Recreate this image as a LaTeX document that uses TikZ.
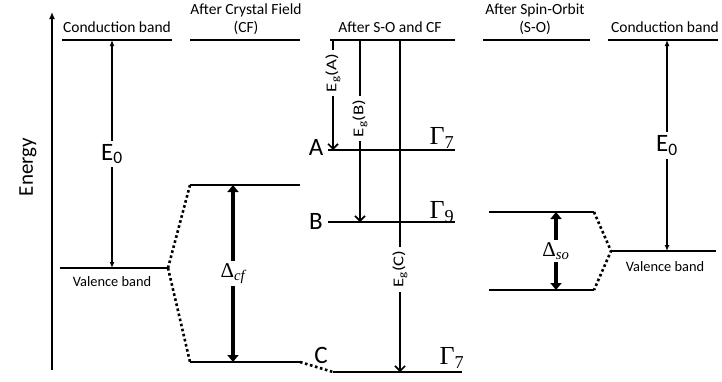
\RequirePackage{fix-cm}
\documentclass[tikz,border=0pt]{standalone}
\usepackage[no-math]{fontspec}
\setmainfont{Carlito}
\newfontfamily\greekfont{Liberation Serif}
\usetikzlibrary{arrows.meta}
\tikzset{
  level/.style={line width=2.8pt},
  gap/.style={line width=1.6pt},
  split/.style={line width=3.2pt,{Triangle[length=7pt,width=11pt]}-{Triangle[length=7pt,width=11pt]}},
  link/.style={line width=2.6pt,dash pattern=on 2.6pt off 2.6pt},
  head/.style={font=\fontsize{15.5}{18}\selectfont,align=center},
  band/.style={font=\fontsize{14.4}{16}\selectfont},
  big/.style={font=\fontsize{25}{28}\selectfont},
  greek/.style={font=\fontsize{26}{28}\selectfont\greekfont},
  delta/.style={font=\fontsize{21}{24}\selectfont\greekfont,fill=white,inner sep=2pt},
  eg/.style={font=\fontsize{15}{16}\selectfont,rotate=90,xscale=1.25,fill=white,inner sep=3pt},
}
\begin{document}
\begin{tikzpicture}[x=1pt,y=-1pt]
    \useasboundingbox (0,0) rectangle (722,381);
    \coordinate (O) at (52,370);
    \coordinate (T) at (52,12);
    \coordinate (C1-a) at (62,40);   \coordinate (C1-b) at (172,40);
    \coordinate (V1-a) at (60,268);  \coordinate (V1-b) at (168,268);
    \coordinate (C2-a) at (190,40);  \coordinate (C2-b) at (300,40);
    \coordinate (U2-a) at (190,185); \coordinate (U2-b) at (300,185);
    \coordinate (L2-a) at (190,362); \coordinate (L2-b) at (300,362);
    \coordinate (C3-a) at (330,40);  \coordinate (C3-b) at (455,40);
    \coordinate (A3-a) at (328,150); \coordinate (A3-b) at (455,150);
    \coordinate (B3-a) at (328,222); \coordinate (B3-b) at (455,222);
    \coordinate (G3-a) at (333,372); \coordinate (G3-b) at (462,372);
    \coordinate (C4-a) at (483,40);  \coordinate (C4-b) at (590,40);
    \coordinate (U4-a) at (489,212); \coordinate (U4-b) at (594,212);
    \coordinate (L4-a) at (489,290); \coordinate (L4-b) at (594,290);
    \coordinate (C5-a) at (608,40);  \coordinate (C5-b) at (718,40);
    \coordinate (V5-a) at (611,251); \coordinate (V5-b) at (716,251);
    \coordinate (E1t) at (112,40);  \coordinate (E1b) at (112,268);
    \coordinate (Dct) at (233,185); \coordinate (Dcb) at (233,362);
    \coordinate (EAt) at (333,40);  \coordinate (EAb) at (333,150);
    \coordinate (EBt) at (360,40);  \coordinate (EBb) at (360,222);
    \coordinate (ECt) at (400,40);  \coordinate (ECb) at (400,372);
    \coordinate (Dst) at (556,212); \coordinate (Dsb) at (556,290);
    \coordinate (E5t) at (667,40);  \coordinate (E5b) at (667,251);
    \draw[line width=1.6pt,-{Latex[length=7pt,width=6pt]}] (O) -- (T);
    \node[rotate=90,font=\fontsize{21}{24}\selectfont] (energy) at (28,167) {Energy};
    \foreach \p in {C1,V1,C2,U2,L2,C3,A3,B3,G3,C4,U4,L4,C5,V5}
        \draw[level] (\p-a) -- (\p-b);
    \draw[link] (V1-b) -- (U2-a);
    \draw[link] (V1-b) -- (L2-a);
    \draw[link] (L2-b) -- (G3-a);
    \draw[link] (U4-b) -- (V5-a) -- (L4-b);
    \draw[gap,{Latex[length=6pt,width=5pt]}-{Latex[length=6pt,width=5pt]}] (E1b) -- node[big,fill=white] (e0l) {E\textsubscript{0}} (E1t);
    \draw[gap,{Latex[length=6pt,width=5pt]}-{Latex[length=6pt,width=5pt]}] (E5b) -- node[big,fill=white] (e0r) {E\textsubscript{0}} (E5t);
    \draw[split] (Dct) -- node[delta] (dcf) {Δ\textsubscript{\itshape cf}} (Dcb);
    \draw[split] (Dst) -- node[delta] (dso) {Δ\textsubscript{\itshape so}} (Dsb);
    \draw[gap,-{Straight Barb[length=5pt,width=10pt]}] (EAt) -- node[eg,pos=0.3] (ega) {E\textsubscript{g}(A)} (EAb);
    \draw[gap,-{Straight Barb[length=5pt,width=10pt]}] (EBt) -- node[eg,pos=0.43] (egb) {E\textsubscript{g}(B)} (EBb);
    \draw[gap,-{Straight Barb[length=5pt,width=10pt]}] (ECt) -- node[eg,pos=0.69] (egc) {E\textsubscript{g}(C)} (ECb);
    \node[head] (h1) at (117,27) {Conduction band};
    \node[head] (h2) at (246,19) {After Crystal Field\\(CF)};
    \node[head] (h3) at (390,27) {After S-O and CF};
    \node[head] (h4) at (535,19) {After Spin-Orbit\\(S-O)};
    \node[head] (h5) at (665,27) {Conduction band};
    \node[band] (vl) at (112,282) {Valence band};
    \node[band] (vr) at (665,267) {Valence band};
    \node[big] (la) at (316,147) {A};
    \node[big] (lb) at (316,221) {B};
    \node[big] (lc) at (321,355) {C};
    \node[greek] (g7a) at (442,138) {Γ\textsubscript{7}};
    \node[greek] (g9) at (442,212) {Γ\textsubscript{9}};
    \node[greek] (g7c) at (452,358) {Γ\textsubscript{7}};
\end{tikzpicture}
\end{document}
